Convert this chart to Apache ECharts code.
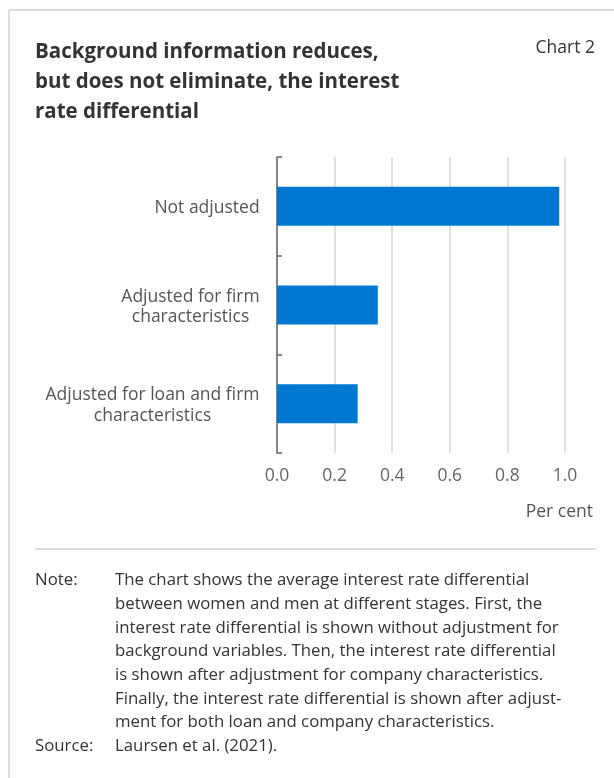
<!DOCTYPE html>
<html>
<head>
<meta charset="utf-8">
<script src="https://cdn.jsdelivr.net/npm/echarts@6/dist/echarts.min.js"></script>
<style>
  html, body { margin: 0; padding: 0; background: #fff; }
  #chart { width: 614px; height: 778px; }
</style>
</head>
<body>
<div id="chart"></div>
<script>
// data
const categories = ['Not adjusted', 'Adjusted for firm\ncharacteristics', 'Adjusted for loan and firm\ncharacteristics']
const values = [0.98, 0.35, 0.28]
const xTicks = [0, 0.2, 0.4, 0.6, 0.8, 1.0]

const noteLines = [
  'The chart shows the average interest rate differential',
  'between women and men at different stages. First, the',
  'interest rate differential is shown without adjustment for',
  'background variables. Then, the interest rate differential',
  'is shown after adjustment for company characteristics.',
  'Finally, the interest rate differential is shown after adjust-',
  'ment for both loan and company characteristics.'
]
const sourceText = 'Laursen et al. (2021).'

const FONT = '"Open Sans", "Noto Sans", sans-serif'
const labelSize = 17.5
const noteFont = '16.8px ' + FONT

// measure line widths so multi-line labels are centred inside a right-aligned block
const ctx = document.createElement('canvas').getContext('2d')
ctx.font = labelSize + 'px ' + FONT
const rich = {}
categories.forEach((c, i) => {
  const w = Math.max(...c.split('\n').map(l => ctx.measureText(l).width))
  rich['l' + i] = { width: Math.ceil(w), align: 'center', fontSize: labelSize, fontFamily: FONT, color: '#555', lineHeight: 20.5 }
})

const chart = echarts.init(document.getElementById('chart'))

const noteGraphics = noteLines.map((t, i) => ({
  type: 'text', left: 115, top: 572 + i * 23.7,
  style: { text: t, font: noteFont, fill: '#333' }
}))

chart.setOption({
  animation: false,
  title: [
    {
      text: 'Background information reduces,\nbut does not eliminate, the interest\nrate differential',
      left: 35, top: 37, padding: 0,
      textStyle: { fontFamily: FONT, fontSize: 20.5, fontWeight: 'bold', color: '#333', lineHeight: 30 }
    },
    {
      text: 'Chart 2', right: 19, top: 39, padding: 0,
      textStyle: { fontFamily: FONT, fontSize: 17.5, fontWeight: 'normal', color: '#333' }
    }
  ],
  grid: { left: 277, right: 49, top: 157, bottom: 325, containLabel: false },
  xAxis: {
    type: 'value', min: 0, max: 1, interval: 0.2,
    axisLine: { show: false },
    axisTick: { show: false },
    splitLine: { show: true, lineStyle: { color: '#d6d6d6', width: 1.5 } },
    axisLabel: {
      margin: 14, color: '#666', fontSize: 17.5, fontFamily: FONT,
      formatter: v => xTicks.includes(Math.round(v * 10) / 10) ? v.toFixed(1) : ''
    }
  },
  yAxis: {
    type: 'category', inverse: true, data: categories,
    axisLine: { show: true, lineStyle: { color: '#666', width: 1.5 } },
    axisTick: { show: true, inside: true, length: 5, lineStyle: { color: '#666', width: 1.5 } },
    axisLabel: {
      margin: 17, padding: [4, 0, 0, 0],
      formatter: (v, i) => v.split('\n').map(l => '{l' + i + '|' + l + '}').join('\n'),
      rich: rich
    }
  },
  series: [{
    type: 'bar', data: values, barWidth: 39,
    itemStyle: { color: '#0078d2' }
  }],
  graphic: [
    { type: 'line', shape: { x1: 9, y1: 10, x2: 614, y2: 10 }, style: { stroke: '#cfcfcf', lineWidth: 1.5 } },
    { type: 'line', shape: { x1: 9, y1: 10, x2: 9, y2: 778 }, style: { stroke: '#cfcfcf', lineWidth: 1.5 } },
    { type: 'line', shape: { x1: 35, y1: 549, x2: 596, y2: 549 }, style: { stroke: '#d0d0d0', lineWidth: 1.5 } },
    { type: 'text', right: 21, top: 503, style: { text: 'Per cent', font: '17.5px ' + FONT, fill: '#555' } },
    { type: 'text', left: 35, top: 572, style: { text: 'Note:', font: noteFont, fill: '#333' } },
    ...noteGraphics,
    { type: 'text', left: 35, top: 738, style: { text: 'Source:', font: noteFont, fill: '#333' } },
    { type: 'text', left: 115, top: 738, style: { text: sourceText, font: noteFont, fill: '#333' } }
  ]
})

window.addEventListener('resize', () => chart.resize())
</script>
</body>
</html>
